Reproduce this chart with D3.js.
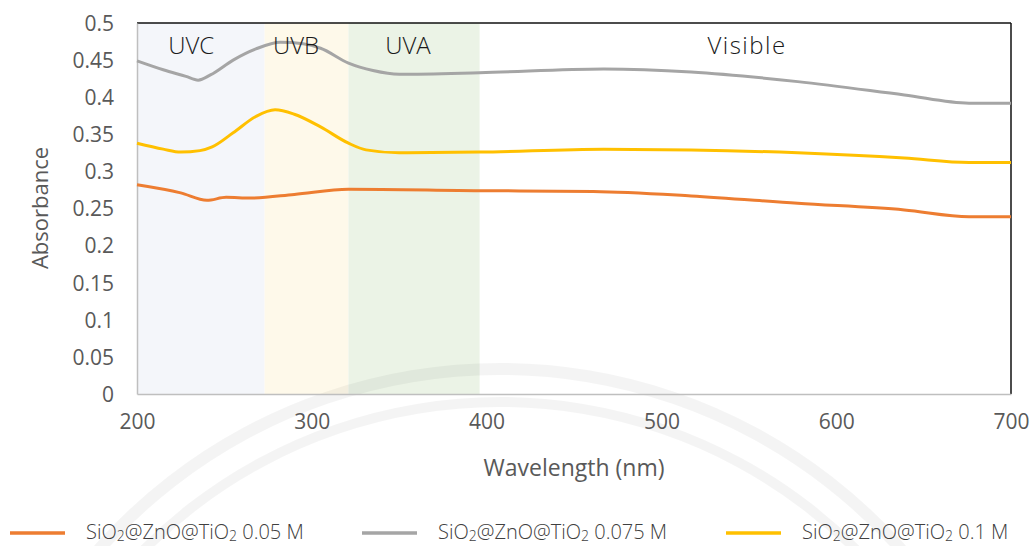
<!DOCTYPE html>
<html><head><meta charset="utf-8">
<script src="https://cdn.jsdelivr.net/npm/d3@7"></script>
<style>body{margin:0;background:#fff}svg{display:block;font-family:"Open Sans","Noto Sans",sans-serif}</style>
</head><body><svg id="c" width="1031" height="546"></svg>
<script>
const xTicks=[200,300,400,500,600,700];
const yTicks=[0,0.05,0.1,0.15,0.2,0.25,0.3,0.35,0.4,0.45,0.5];
const bands=[{name:"UVC",from:200,to:273,color:"#f4f6fa"},{name:"UVB",from:273,to:321,color:"#fef9ea"},{name:"UVA",from:321,to:396,color:"#ebf3e6"}];
const bandLabels=[{name:"UVC",wl:231},{name:"UVB",wl:291},{name:"UVA",wl:355},{name:"Visible",wl:549}];
const wlOrange=[200,225,240,251,265,290,321,396,461,517,578,639,676,700];
const absOrange=[0.282,0.271,0.261,0.265,0.264,0.269,0.276,0.274,0.273,0.267,0.257,0.248,0.239,0.239];
const wlGray=[200,215,228,235,242,255,268,282,295,305,321,335,350,396,467,517,578,639,676,700];
const absGray=[0.449,0.437,0.428,0.423,0.430,0.450,0.465,0.474,0.472,0.466,0.446,0.436,0.431,0.433,0.438,0.434,0.421,0.403,0.392,0.392];
const wlYellow=[200,215,225,236,243,255,268,279,290,305,321,331,350,396,467,517,578,639,676,700];
const absYellow=[0.338,0.330,0.326,0.328,0.333,0.352,0.374,0.383,0.377,0.360,0.338,0.329,0.325,0.326,0.330,0.329,0.325,0.318,0.312,0.312];
const seriesNames=["0.05 M","0.075 M","0.1 M"];
const colors=["#ed7d31","#a5a5a5","#ffc000"];

const svg=d3.select("#c");
const L=137,R=1011,T=23,B=394;
const x=d3.scaleLinear().domain([200,700]).range([L,R]);
const y=d3.scaleLinear().domain([0,0.5]).range([B,T]);

// bands
svg.selectAll("rect.band").data(bands).enter().append("rect")
 .attr("x",d=>x(d.from)).attr("width",d=>x(d.to)-x(d.from))
 .attr("y",T).attr("height",B-T).attr("fill",d=>d.color);

// faint watermark arcs
const wm=svg.append("g");
[[530,12],[498,10]].forEach(([r,w])=>{
  wm.append("path").attr("d",d3.arc()({innerRadius:r,outerRadius:r+w,startAngle:-Math.PI*0.42,endAngle:Math.PI*0.42}))
   .attr("transform","translate(500,905)").attr("fill","#000").attr("fill-opacity",0.045);
});

// frame
svg.append("line").attr("x1",L).attr("x2",R).attr("y1",T).attr("y2",T).attr("stroke","#111").attr("stroke-width",1.5);
svg.append("line").attr("x1",R).attr("x2",R).attr("y1",T).attr("y2",B).attr("stroke","#111").attr("stroke-width",1.5);

// axes
const gx=svg.append("g").attr("transform",`translate(0,${B})`).call(d3.axisBottom(x).tickValues(xTicks).tickSize(0).tickFormat(d3.format("d")));
const gy=svg.append("g").attr("transform",`translate(${L},0)`).call(d3.axisLeft(y).tickValues(yTicks).tickSize(0).tickFormat(d=>String(+d.toFixed(2))));
[gx,gy].forEach(g=>{g.select(".domain").attr("stroke","#bfbfbf").attr("stroke-width",1.5);
 g.selectAll("text").attr("fill","#595959").style("font-size","21px").style("font-family","'Open Sans',sans-serif");});
gx.selectAll("text").attr("dy","0.71em").attr("y",20);
gy.selectAll("text").attr("x",-23).attr("dy","0.35em");

// lines
const line=d3.line().x(d=>x(d[0])).y(d=>y(d[1])).curve(d3.curveMonotoneX);
const sets=[[wlOrange,absOrange],[wlGray,absGray],[wlYellow,absYellow]];
sets.forEach((s,i)=>{
 svg.append("path").datum(s[0].map((w,j)=>[w,s[1][j]])).attr("d",line)
  .attr("fill","none").attr("stroke",colors[i]).attr("stroke-width",3).attr("stroke-linejoin","round");
});

// band labels
svg.selectAll("text.bl").data(bandLabels).enter().append("text")
 .attr("x",d=>x(d.wl)).attr("y",54).attr("text-anchor","middle")
 .attr("fill","#1a1a1a").style("font-size","24px").style("font-weight","300")
 .style("letter-spacing",d=>d.name==="Visible"?"1.5px":"0px").text(d=>d.name);

// axis titles
svg.append("text").attr("x",574).attr("y",476).attr("text-anchor","middle").attr("fill","#595959").style("font-size","23px").text("Wavelength (nm)");
svg.append("text").attr("transform","translate(48,208) rotate(-90)").attr("text-anchor","middle").attr("fill","#595959").style("font-size","22px").text("Absorbance");

// legend
const legX=[10,362,726];
seriesNames.forEach((n,i)=>{
 const g=svg.append("g").attr("transform",`translate(${legX[i]},533)`);
 g.append("line").attr("x1",0).attr("x2",55).attr("stroke",colors[i]).attr("stroke-width",3.5);
 const t=g.append("text").attr("x",76).attr("y",6).attr("fill","#404040").style("font-size","20px").style("font-weight","300");
 t.append("tspan").text("SiO");
 t.append("tspan").text("2").style("font-size","14px").attr("dy",2);
 t.append("tspan").text("@ZnO@TiO").attr("dy",-2);
 t.append("tspan").text("2").style("font-size","14px").attr("dy",2);
 t.append("tspan").text(" "+n).attr("dy",-2);
});
</script></body></html>
